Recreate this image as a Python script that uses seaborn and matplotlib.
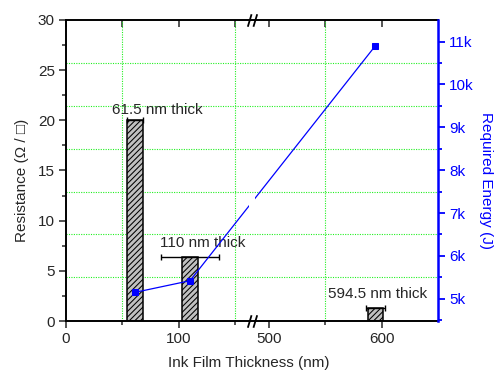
import numpy as np
import matplotlib
matplotlib.use("Agg")
import matplotlib.pyplot as plt
import seaborn as sns
from matplotlib.path import Path
from matplotlib.patches import Rectangle
from matplotlib.ticker import FixedLocator, MultipleLocator, FuncFormatter

# data
thickness = [61.5, 110, 594.5]          # nm
resistance = [20.0, 6.4, 1.3]           # ohm / sq
thickness_err = [7, 26, 8.5]            # nm (horizontal error bars)
energy = [5150, 5420, 10905]            # J
bar_labels = ["61.5 nm thick", "110 nm thick", "594.5 nm thick"]

# broken x axis: 165 .. 485 is cut out
brk_lo, brk_hi = 165, 485
gap = brk_hi - brk_lo


def fwd(x):
    x = np.asarray(x, dtype=float)
    return np.where(x <= brk_lo, x, np.where(x >= brk_hi, x - gap, brk_lo))


def inv(x):
    x = np.asarray(x, dtype=float)
    return np.where(x <= brk_lo, x, x + gap)


sns.set_style("ticks")
plt.rcParams["font.family"] = ["Liberation Sans", "DejaVu Sans"]
plt.rcParams["font.size"] = 11
plt.rcParams["hatch.linewidth"] = 0.75

fig, ax = plt.subplots(figsize=(4.94, 3.73), dpi=100)
fig.subplots_adjust(left=0.1336, right=0.8866, top=0.9464, bottom=0.1394)

green = "#22f022"

# bars (left axis)
sns.barplot(x=thickness, y=resistance, native_scale=True, width=14 / 48.5,
            color="#c0c0c0", saturation=1, edgecolor="black", linewidth=1.1,
            hatch="//////", errorbar=None, ax=ax, zorder=2)
ax.errorbar(thickness, resistance, xerr=thickness_err, fmt="none",
            ecolor="black", elinewidth=1, capsize=2.5, capthick=1, zorder=3)

offsets = [(15.5, 4.8), (9.4, 7.2), (1.8, 6.9)]
for x, h, lab, off in zip(thickness, resistance, bar_labels, offsets):
    ax.annotate(lab, (x, h), xytext=off, textcoords="offset points",
                ha="center", va="baseline", fontsize=11, zorder=4)

ax.set_xscale("function", functions=(fwd, inv))
ax.set_xlim(0, 650)
ax.set_ylim(0, 30)
ax.xaxis.set_major_locator(FixedLocator([0, 100, 500, 600]))
ax.xaxis.set_minor_locator(FixedLocator([50, 150, 550]))
ax.yaxis.set_major_locator(MultipleLocator(5))
ax.yaxis.set_minor_locator(MultipleLocator(2.5))
ax.grid(which="minor", axis="x", color=green, lw=0.8, ls=(0, (1, 1.2)))
ax.set_axisbelow(True)
ax.tick_params(which="major", direction="out", length=5, width=1.1, pad=3,
               labelsize=11, top=False, right=False)
ax.tick_params(which="minor", direction="out", length=3, width=1.1,
               top=False, right=False)
for s in ["left", "bottom", "top"]:
    ax.spines[s].set_linewidth(1.4)
    ax.spines[s].set_color("black")
ax.spines["right"].set_visible(False)
ax.set_xlabel("Ink Film Thickness (nm)", fontsize=11)
ax.set_ylabel("Resistance (\u03a9 / \u25a1)", fontsize=11, va="center")
ax.xaxis.set_label_coords(0.49, -0.115)
ax.yaxis.set_label_coords(-0.118, 0.468)

# helper twin underneath: horizontal grid from energy minor ticks, top ticks
axg = ax.twinx()
axg.set_ylim(4480, 11505)
axg.yaxis.set_minor_locator(FixedLocator(np.arange(5500, 11000, 1000)))
axg.grid(which="minor", axis="y", color=green, lw=0.8, ls=(0, (1, 1.2)))
axg.tick_params(axis="y", which="both", left=False, right=False,
                labelleft=False, labelright=False)
axg.xaxis.set_visible(True)
axg.tick_params(axis="x", which="both", bottom=False, top=True,
                labelbottom=False, labeltop=False, direction="in",
                length=5, width=1.1)
for s in axg.spines.values():
    s.set_visible(False)

# energy line (right axis), on top
ax2 = ax.twinx()
ax2.set_ylim(4480, 11505)
xb = brk_lo / (650 - gap)
d = 3.2 / 372
clips = [(0, xb - d), (xb + d, 1.2)]
for x0, x1 in clips:
    sns.lineplot(x=thickness, y=energy, color="blue", marker="s",
                 markersize=5, markeredgecolor="blue", linewidth=0.9, ax=ax2)
    ln = ax2.lines[-1]
    ln.set_clip_path(Rectangle((x0, -0.1), x1 - x0, 1.2, transform=ax2.transAxes))
ax2.yaxis.set_major_locator(MultipleLocator(1000))
ax2.yaxis.set_minor_locator(FixedLocator(np.arange(4500, 11000, 1000)))
ax2.yaxis.set_major_formatter(FuncFormatter(lambda v, p: f"{v / 1000:g}k"))
ax2.tick_params(axis="y", which="major", direction="out", length=5, width=1.3,
                color="blue", labelcolor="blue", labelsize=11, pad=3)
ax2.tick_params(axis="y", which="minor", direction="out", length=3, width=1.3,
                color="blue")
for s in ["left", "bottom", "top"]:
    ax2.spines[s].set_visible(False)
ax2.spines["right"].set_color("blue")
ax2.spines["right"].set_linewidth(1.8)
ax2.set_ylabel("Required Energy (J)", color="blue", fontsize=11,
               rotation=270, va="center")
ax2.yaxis.set_label_coords(1.129, 0.468)

ax.set_zorder(1)
ax.patch.set_visible(False)
axg.set_zorder(0)
ax2.set_zorder(2)

# axis break marks
slash = Path([(-3, -4), (-0.6, 4), (0.6, -4), (3, 4)],
             [Path.MOVETO, Path.LINETO, Path.MOVETO, Path.LINETO])
ax2.plot([brk_lo, brk_lo], [0, 1], ls="none", marker=slash, markersize=9,
         markeredgecolor="black", markeredgewidth=1.3,
         transform=ax2.get_xaxis_transform(), clip_on=False, zorder=10)

fig.savefig("out.png", dpi=100)
